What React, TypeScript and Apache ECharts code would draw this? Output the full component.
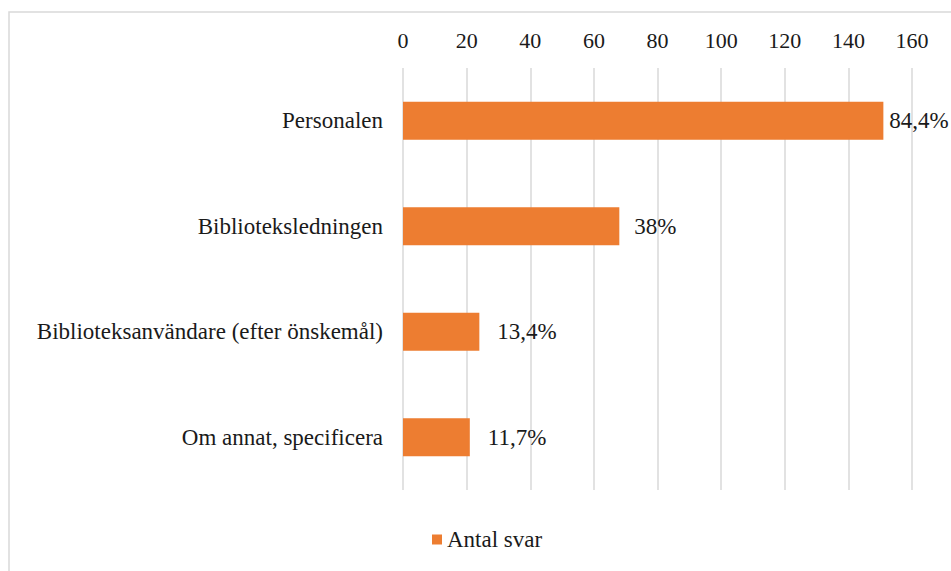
import React, { useEffect, useRef } from "react";
import * as echarts from "echarts";

const categories = [
  "Personalen",
  "Biblioteksledningen",
  "Biblioteksanvändare (efter önskemål)",
  "Om annat, specificera",
];
const values = [151, 68, 24, 21];
const percentLabels = ["84,4%", "38%", "13,4%", "11,7%"];
const labelDistances = [6, 15, 18, 18];
const seriesName = "Antal svar";

const FONT = "serif";
const TEXT = "#1a1a1a";
const FS = 22;
const FS_LABEL = 23;

export default function App() {
  const ref = useRef<HTMLDivElement>(null);
  useEffect(() => {
    if (!ref.current) return;
    const chart = echarts.init(ref.current, null, { renderer: "svg" });
    chart.setOption({
      animation: false,
      backgroundColor: "#ffffff",
      textStyle: { fontFamily: FONT, color: TEXT },
      graphic: [
        {
          type: "rect",
          shape: { x: 9, y: 12, width: 1000, height: 600 },
          style: { fill: "none", stroke: "#d9d9d9", lineWidth: 1.5 },
          silent: true,
        },
      ],
      grid: { left: 403, right: 39, top: 68, bottom: 81, containLabel: false },
      xAxis: {
        type: "value",
        position: "top",
        min: 0,
        max: 160,
        interval: 20,
        axisLine: { show: false },
        axisTick: { show: false },
        axisLabel: { fontFamily: FONT, fontSize: FS, color: TEXT, margin: 17 },
        splitLine: { show: true, lineStyle: { color: "#d9d9d9", width: 1.5 } },
      },
      yAxis: {
        type: "category",
        inverse: true,
        data: categories,
        axisLine: { show: false },
        axisTick: { show: false },
        axisLabel: { fontFamily: FONT, fontSize: FS_LABEL, color: TEXT, margin: 20 },
      },
      legend: {
        left: 427,
        top: 523,
        icon: "rect",
        itemWidth: 10,
        itemHeight: 10,
        itemGap: 4,
        textStyle: { fontFamily: FONT, fontSize: FS_LABEL, color: TEXT },
        data: [seriesName],
      },
      series: [
        {
          name: seriesName,
          type: "bar",
          barWidth: 38,
          itemStyle: { color: "#ED7D31" },
          data: values.map((v, i) => ({
            value: v,
            label: {
              show: true,
              position: "right",
              distance: labelDistances[i],
              formatter: percentLabels[i],
              fontFamily: FONT,
              fontSize: FS_LABEL,
              color: TEXT,
            },
          })),
        },
      ],
    });
    return () => chart.dispose();
  }, []);
  return (
    <div
      ref={ref}
      style={{ position: "fixed", left: 0, top: 0, width: 951, height: 571 }}
    />
  );
}
